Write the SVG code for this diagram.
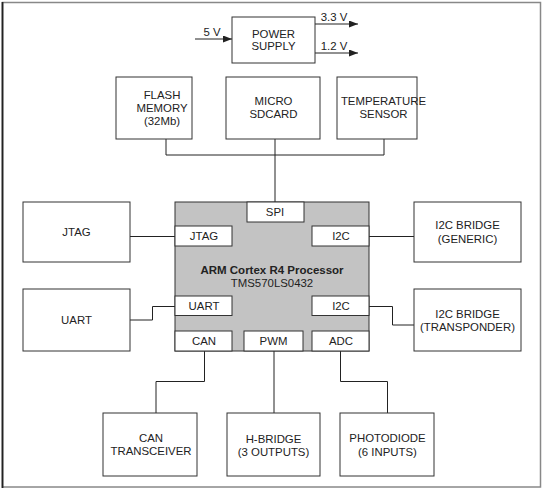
<svg xmlns="http://www.w3.org/2000/svg" width="546" height="493" viewBox="0 0 546 493">
<style>
.box{fill:#fff;stroke:#333;stroke-width:1}
.port{fill:#fff;stroke:#333;stroke-width:1}
.cpu{fill:#c3c3c3;stroke:#333;stroke-width:1}
.ln{fill:none;stroke:#222;stroke-width:1}
text{font-family:"Liberation Sans",Arial,sans-serif;font-size:11.4px;fill:#222;text-anchor:middle}
.b{font-weight:bold;font-size:11.5px}
</style>
<defs>
<marker id="ah" markerWidth="9" markerHeight="7" refX="9" refY="3.5" orient="auto" markerUnits="userSpaceOnUse">
<path d="M0,0 L9,3.5 L0,7 z" fill="#222"/>
</marker>
</defs>
<rect width="546" height="493" fill="#fff"/>
<g id="frame">
<rect x="2.5" y="2.5" width="538" height="484.5" fill="none" stroke="#888" stroke-width="1.5"/>
<line x1="2.5" y1="2" x2="2.5" y2="488" stroke="#222" stroke-width="1.8"/>
</g>
<g id="connectors">
<line class="ln" x1="195" y1="39" x2="232" y2="39" marker-end="url(#ah)"/>
<line class="ln" x1="315" y1="24" x2="358" y2="24" marker-end="url(#ah)"/>
<line class="ln" x1="315" y1="53" x2="358" y2="53" marker-end="url(#ah)"/>
<polyline class="ln" points="166,139 166,155 384,155 384,139"/>
<line class="ln" x1="275" y1="139" x2="275" y2="202"/>
<line class="ln" x1="130" y1="236.5" x2="175" y2="236.5"/>
<polyline class="ln" points="130,320 152.5,320 152.5,306.5 175,306.5"/>
<line class="ln" x1="369" y1="236.5" x2="414" y2="236.5"/>
<polyline class="ln" points="369,306.5 392.5,306.5 392.5,325 414,325"/>
<polyline class="ln" points="204.5,351 204.5,381.5 156,381.5 156,413"/>
<line class="ln" x1="274" y1="351" x2="274" y2="413"/>
<polyline class="ln" points="340.5,351 340.5,381.5 387.5,381.5 387.5,413"/>
</g>
<g id="labels">
<text x="212" y="36">5 V</text>
<text x="334" y="21">3.3 V</text>
<text x="334" y="50">1.2 V</text>
</g>
<g id="power">
<rect class="box" x="232" y="17" width="83" height="46"/>
<text x="273.5" y="37.5">POWER</text>
<text x="273.5" y="50">SUPPLY</text>
</g>
<g id="flash">
<rect class="box" x="116" y="77" width="76" height="62"/>
<text x="162" y="99">FLASH</text>
<text x="162" y="112">MEMORY</text>
<text x="162" y="125">(32Mb)</text>
</g>
<g id="sdcard">
<rect class="box" x="226" y="77" width="94" height="62"/>
<text x="273.5" y="104.5">MICRO</text>
<text x="273.5" y="118">SDCARD</text>
</g>
<g id="temp">
<rect class="box" x="337" y="77" width="80" height="62"/>
<text x="383.5" y="104.5">TEMPERATURE</text>
<text x="383.5" y="118">SENSOR</text>
</g>
<g id="jtag">
<rect class="box" x="23" y="202" width="107" height="60"/>
<text x="76.5" y="236">JTAG</text>
</g>
<g id="uart">
<rect class="box" x="23" y="289" width="107" height="62"/>
<text x="76.5" y="324">UART</text>
</g>
<g id="i2c-generic">
<rect class="box" x="414" y="202" width="107" height="60"/>
<text x="467.5" y="228.5">I2C BRIDGE</text>
<text x="467.5" y="242.5">(GENERIC)</text>
</g>
<g id="i2c-transponder">
<rect class="box" x="414" y="289" width="107" height="62"/>
<text x="467.5" y="317.5">I2C BRIDGE</text>
<text x="467.5" y="331">(TRANSPONDER)</text>
</g>
<g id="processor">
<rect class="cpu" x="175" y="202" width="194" height="149"/>
<rect class="port" x="247" y="202" width="57" height="20"/>
<text x="275" y="216">SPI</text>
<rect class="port" x="175" y="226" width="57" height="20"/>
<text x="204" y="240">JTAG</text>
<rect class="port" x="312" y="226" width="57" height="20"/>
<text x="341" y="240">I2C</text>
<rect class="port" x="175" y="296" width="57" height="19.5"/>
<text x="204" y="310">UART</text>
<rect class="port" x="312" y="296" width="57" height="19.5"/>
<text x="341" y="310">I2C</text>
<rect class="port" x="175" y="331" width="57" height="20"/>
<text x="204" y="345">CAN</text>
<rect class="port" x="244" y="331" width="59" height="20"/>
<text x="273.5" y="345">PWM</text>
<rect class="port" x="312" y="331" width="57" height="20"/>
<text x="341" y="345">ADC</text>
<text class="b" x="272" y="273.5">ARM Cortex R4 Processor</text>
<text x="272" y="287">TMS570LS0432</text>
</g>
<g id="can">
<rect class="box" x="103" y="413" width="94" height="63"/>
<text x="151" y="441.5">CAN</text>
<text x="151" y="455">TRANSCEIVER</text>
</g>
<g id="hbridge">
<rect class="box" x="227" y="413" width="93" height="63"/>
<text x="273.5" y="442.5">H-BRIDGE</text>
<text x="273.5" y="456">(3 OUTPUTS)</text>
</g>
<g id="photodiode">
<rect class="box" x="340" y="413" width="94" height="63"/>
<text x="387.5" y="442">PHOTODIODE</text>
<text x="387.5" y="456">(6 INPUTS)</text>
</g>
</svg>
